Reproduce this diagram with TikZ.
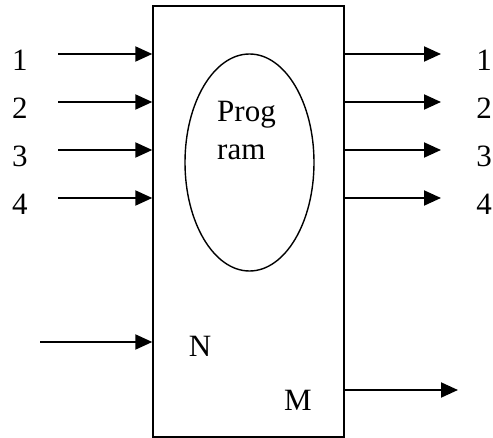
\documentclass[tikz,border=0pt]{standalone}
\usepackage{fontspec}
\setmainfont{Liberation Serif}
\usetikzlibrary{arrows.meta,shapes.geometric}
\tikzset{
  arr/.style={line width=2pt,-{Triangle[length=17pt,width=15pt]}},
  lbl/.style={inner sep=0pt,font=\fontsize{31}{38}\selectfont},
}
\begin{document}
\begin{tikzpicture}[x=1pt,y=-1pt]
\useasboundingbox (0,0) rectangle (493,438);
\node[draw,line width=1.4pt,minimum width=191pt,minimum height=431pt,inner sep=0pt] (box) at (248.5,221.5) {};
\node[draw,ellipse,line width=1.4pt,minimum width=129pt,minimum height=217pt,inner sep=0pt] (prog) at (249.5,162.5) {};
\node[lbl,align=left,anchor=base west] (ptext) at (217,160) {Prog\\ram};
% inputs
\foreach \i/\y in {1/54,2/102,3/150,4/198}{
  \coordinate (in\i) at (58,\y);
  \node[lbl] (li\i) at (20,\y+6) {\i};
  \draw[arr] (in\i) -- (in\i -| box.west);
  \coordinate (out\i) at (441,\y);
  \node[lbl] (lo\i) at (484,\y+6) {\i};
  \draw[arr] (out\i -| box.east) -- (out\i);
}
\coordinate (inN) at (40,342);
\draw[arr] (inN) -- (inN -| box.west);
\node[lbl] (N) at (200,346) {N};
\coordinate (outM) at (458,390);
\draw[arr] (outM -| box.east) -- (outM);
\node[lbl] (M) at (298,400) {M};
\end{tikzpicture}
\end{document}
